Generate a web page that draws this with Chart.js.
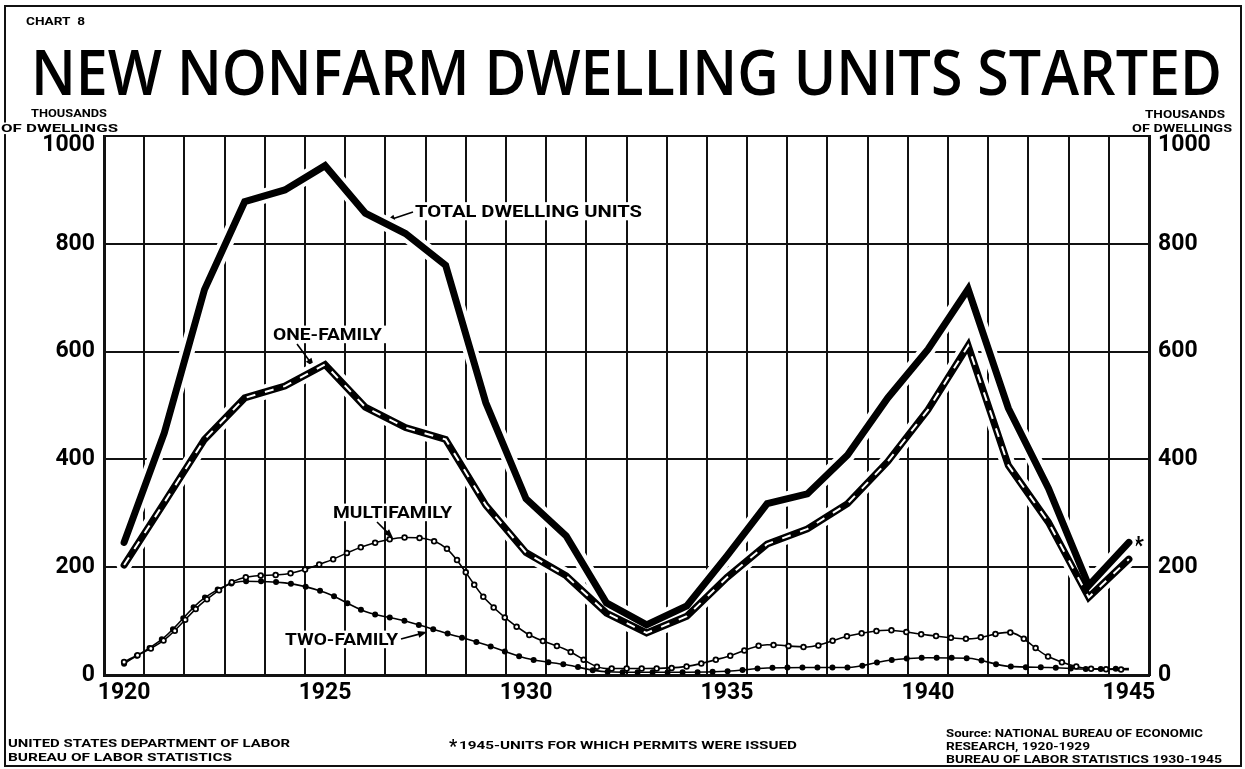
<!DOCTYPE html>
<html>
<head>
<meta charset="utf-8">
<script src="https://cdn.jsdelivr.net/npm/chart.js@4.4.1/dist/chart.umd.min.js"></script>
<style>
  html, body { margin: 0; padding: 0; background: #fff; }
  #wrap { position: relative; width: 1245px; height: 769px; }
</style>
</head>
<body>
<div id="wrap"><canvas id="c" width="1245" height="769"></canvas></div>
<script>
// ---- Data (thousands of dwelling units) ----
const years = ['1920','1921','1922','1923','1924','1925','1926','1927','1928','1929',
               '1930','1931','1932','1933','1934','1935','1936','1937','1938','1939',
               '1940','1941','1942','1943','1944','1945'];
const xTickLabels = ['1920','1925','1930','1935','1940','1945'];
const yTickValues = [0, 200, 400, 600, 800, 1000];

const totalUnits  = [246, 449, 715, 878, 900, 945, 857, 819, 760, 505,
                     327, 258, 134,  93, 128, 221, 318, 336, 408, 514,
                     604, 716, 495, 346, 166, 246];
const oneFamily   = [204, 320, 437, 514, 536, 576, 497, 459, 437, 315,
                     227, 184, 115,  78, 109, 181, 243, 271, 318, 396,
                     492, 611, 389, 283, 144, 215];
const multiFamily = [ 24,  65, 137, 181, 187, 209, 240, 255, 236, 140,
                      78,  47,  12,  12,  16,  34,  56,  52,  72,  83,
                      74,  67,  79,  34,  12,  10];
const twoFamily   = [ 21,  70, 143, 174, 171, 153, 118, 100,  78,  56,
                      31,  19,   6,   5,   5,   7,  13,  14,  14,  27,
                      32,  31,  16,  14,  11,  12];

const FONT = 'Roboto';
const INK = '#111';

function drawText(ctx, s, x, y, size, width, bg, font) {
  ctx.save();
  ctx.font = font ? font.replace('SIZE', size + 'px') : ('bold ' + size + 'px ' + FONT);
  const m = ctx.measureText(s).width;
  const w = width || m;
  if (bg) {
    ctx.fillStyle = '#fff';
    ctx.fillRect(x - 4, y - size * 0.9, w + 8, size * 1.1);
  }
  ctx.translate(x, y);
  ctx.scale(w / m, 1);
  ctx.fillStyle = '#000';
  ctx.textAlign = 'left';
  ctx.textBaseline = 'alphabetic';
  ctx.fillText(s, 0, 0);
  ctx.restore();
}

function arrow(ctx, x1, y1, x2, y2) {
  ctx.save();
  ctx.strokeStyle = '#000';
  ctx.fillStyle = '#000';
  ctx.lineWidth = 1.6;
  const a = Math.atan2(y2 - y1, x2 - x1);
  const L = 9, H = 3.5;
  ctx.beginPath();
  ctx.moveTo(x1, y1);
  ctx.lineTo(x2 - Math.cos(a) * L * 0.8, y2 - Math.sin(a) * L * 0.8);
  ctx.stroke();
  ctx.beginPath();
  ctx.moveTo(x2, y2);
  ctx.lineTo(x2 - Math.cos(a) * L - Math.sin(a) * H, y2 - Math.sin(a) * L + Math.cos(a) * H);
  ctx.lineTo(x2 - Math.cos(a) * L + Math.sin(a) * H, y2 - Math.sin(a) * L - Math.cos(a) * H);
  ctx.closePath();
  ctx.fill();
  ctx.restore();
}

const decor = {
  id: 'decor',
  beforeDatasetsDraw(chart) {
    const ctx = chart.ctx;
    // frame
    ctx.save();
    ctx.strokeStyle = INK;
    ctx.lineWidth = 2;
    ctx.strokeRect(5, 6, 1236, 760);
    ctx.restore();

    drawText(ctx, 'CHART  8', 26, 25, 11, 59, false);
    drawText(ctx, 'NEW NONFARM DWELLING UNITS STARTED', 31, 95, 63, 1191, false, '600 SIZE "Open Sans"');

    drawText(ctx, 'THOUSANDS', 31, 117, 10.5, 76, true);
    drawText(ctx, 'OF DWELLINGS', 1, 132, 10.5, 117, true);
    drawText(ctx, 'THOUSANDS', 1145, 118, 10.5, 80, true);
    drawText(ctx, 'OF DWELLINGS', 1132, 132, 10.5, 100, true);

    drawText(ctx, 'TOTAL DWELLING UNITS', 415, 217, 16.5, 227, true);
    drawText(ctx, 'ONE-FAMILY', 273, 340, 16, 109, true);
    drawText(ctx, 'MULTIFAMILY', 333, 518, 16, 119, true);
    drawText(ctx, 'TWO-FAMILY', 285, 645, 16, 113, true);

    arrow(ctx, 413, 212, 386, 221);
    arrow(ctx, 297, 344, 314, 367);
    arrow(ctx, 377, 522, 393, 538);
    arrow(ctx, 401, 639, 427, 632);

    drawText(ctx, '*', 1133, 553, 24, null, false);

    drawText(ctx, 'UNITED STATES DEPARTMENT OF LABOR', 8, 747, 11.5, 282, false);
    drawText(ctx, 'BUREAU OF LABOR STATISTICS', 8, 761, 11.5, 224, false);
    drawText(ctx, '*', 449, 752, 18, null, false);
    drawText(ctx, '1945-UNITS FOR WHICH PERMITS WERE ISSUED', 459, 749, 11.5, 338, false);
    drawText(ctx, 'Source: NATIONAL BUREAU OF ECONOMIC', 946, 737, 10.5, 257, false);
    drawText(ctx, 'RESEARCH, 1920-1929', 946, 750, 10.5, 144, false);
    drawText(ctx, 'BUREAU OF LABOR STATISTICS 1930-1945', 946, 763, 10.5, 276, false);
  }
};

const tickFont = (c) => {
  const f = { family: FONT, size: 23, weight: 'bold' };
  if (c.tick && c.tick.value === 1000) f.lineHeight = 0.8;
  return f;
};
const yLabel = (v) => (v === 1000 ? ['', '1000'] : String(v));

const halo = (data) => ({
  data, borderColor: '#fff', borderWidth: 15, pointRadius: 0, tension: 0,
  borderCapStyle: 'round', borderJoinStyle: 'round', order: 20
});

new Chart(document.getElementById('c'), {
  type: 'line',
  data: {
    labels: years,
    datasets: [
      // one-family: white dashes over thick black
      { label: 'One-family dashes', data: oneFamily, borderColor: '#fff', borderWidth: 2,
        borderDash: [9, 10], pointRadius: 0, tension: 0, borderJoinStyle: 'miter', order: 0 },
      { label: 'One-family', data: oneFamily, borderColor: '#000', borderWidth: 7,
        pointRadius: 0, tension: 0, borderCapStyle: 'round', borderJoinStyle: 'miter', order: 1 },
      { label: 'Total dwelling units', data: totalUnits, borderColor: '#000', borderWidth: 7,
        pointRadius: 0, tension: 0, borderCapStyle: 'round', borderJoinStyle: 'miter', order: 2 },
      // multifamily: open beads
      { label: 'Multifamily beads inner', data: multiFamily, borderColor: '#fff', borderWidth: 3,
        borderDash: [0, 15], borderCapStyle: 'round', pointRadius: 0, cubicInterpolationMode: 'monotone', order: 3 },
      { label: 'Multifamily beads', data: multiFamily, borderColor: '#000', borderWidth: 6.5,
        borderDash: [0, 15], borderCapStyle: 'round', pointRadius: 0, cubicInterpolationMode: 'monotone', order: 4 },
      { label: 'Multifamily', data: multiFamily, borderColor: '#000', borderWidth: 1.6,
        pointRadius: 0, cubicInterpolationMode: 'monotone', order: 5 },
      // two-family: filled beads
      { label: 'Two-family beads', data: twoFamily, borderColor: '#000', borderWidth: 6,
        borderDash: [0, 15], borderCapStyle: 'round', pointRadius: 0, cubicInterpolationMode: 'monotone', order: 6 },
      { label: 'Two-family', data: twoFamily, borderColor: '#000', borderWidth: 1.6,
        pointRadius: 0, cubicInterpolationMode: 'monotone', order: 7 },
      Object.assign(halo(totalUnits), { label: 'halo total' }),
      Object.assign(halo(oneFamily), { label: 'halo one' })
    ]
  },
  options: {
    responsive: false,
    animation: false,
    devicePixelRatio: 1,
    layout: { padding: { top: 136, left: 0, right: 0, bottom: 0 } },
    plugins: { legend: { display: false }, tooltip: { enabled: false }, title: { display: false } },
    scales: {
      x: {
        type: 'category',
        offset: true,
        grid: { offset: true, color: INK, lineWidth: 2, drawTicks: false },
        border: { color: INK, width: 3 },
        ticks: {
          autoSkip: false, maxRotation: 0, padding: 4, color: '#000',
          font: { family: FONT, size: 23, weight: 'bold' },
          callback: function (v) { const l = this.getLabelForValue(v); return xTickLabels.includes(l) ? l : ''; }
        },
        afterFit: (s) => { s.height = 94; }
      },
      y: {
        position: 'left', min: 0, max: 1000,
        afterBuildTicks: (s) => { s.ticks = yTickValues.map(v => ({ value: v })); },
        grid: { color: INK, lineWidth: 2, drawTicks: false },
        border: { color: INK, width: 3 },
        ticks: { padding: 9, color: '#000', font: tickFont, callback: yLabel },
        afterFit: (s) => { s.width = 104; }
      },
      y2: {
        position: 'right', min: 0, max: 1000,
        afterBuildTicks: (s) => { s.ticks = yTickValues.map(v => ({ value: v })); },
        grid: { display: false, drawTicks: false },
        border: { display: true, color: INK, width: 3 },
        ticks: { padding: 9, color: '#000', font: tickFont, callback: yLabel },
        afterFit: (s) => { s.width = 96; }
      }
    }
  },
  plugins: [decor]
});
</script>
</body>
</html>
